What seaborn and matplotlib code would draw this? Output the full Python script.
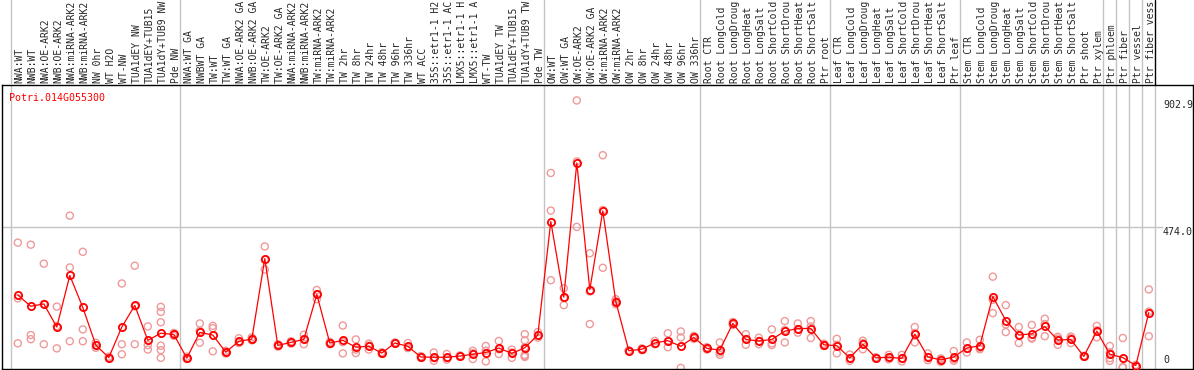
import numpy as np
import pandas as pd
import matplotlib
matplotlib.use("Agg")
import matplotlib.pyplot as plt
import seaborn as sns

# gene shown in the panel
gene = "Potri.014G055300"

# sample labels, left to right
labels = [
    "NWA:WT", "NWB:WT", "NWA:OE-ARK2", "NWB:OE-ARK2", "NWA:miRNA-ARK2",
    "NWB:miRNA-ARK2", "NW 0hr", "WT H2O", "WT-NW", "TUA1dEY NW",
    "TUA1dEY+TUB15", "TUA1dY+TUB9 NW", "Pde NW",
    "NWA:WT GA", "NWBWT GA", "TW:WT", "TW:WT GA", "NWA:OE-ARK2 GA",
    "NWB:OE-ARK2 GA", "TW:OE-ARK2", "TW:OE-ARK2 GA", "NWA:miRNA-ARK2",
    "NWB:miRNA-ARK2", "TW:miRNA-ARK2", "TW:miRNA-ARK2", "TW 2hr", "TW 8hr",
    "TW 24hr", "TW 48hr", "TW 96hr", "TW 336hr", "WT ACC", "35S::etr1-1 H2",
    "35S::etr1-1 AC", "LMX5::etr1-1 H", "LMX5::etr1-1 A", "WT-TW",
    "TUA1dEY TW", "TUA1dEY+TUB15", "TUA1dY+TUB9 TW", "Pde TW",
    "OW:WT", "OW:WT GA", "OW:OE-ARK2", "OW:OE-ARK2 GA", "OW:miRNA-ARK2",
    "OW:miRNA-ARK2", "OW 2hr", "OW 8hr", "OW 24hr", "OW 48hr", "OW 96hr",
    "OW 336hr",
    "Root CTR", "Root LongCold", "Root LongDroug", "Root LongHeat",
    "Root LongSalt", "Root ShortCold", "Root ShortDrou", "Root ShortHeat",
    "Root ShortSalt", "Ptr root",
    "Leaf CTR", "Leaf LongCold", "Leaf LongDroug", "Leaf LongHeat",
    "Leaf LongSalt", "Leaf ShortCold", "Leaf ShortDrou", "Leaf ShortHeat",
    "Leaf ShortSalt", "Ptr leaf",
    "Stem CTR", "Stem LongCold", "Stem LongDroug", "Stem LongHeat",
    "Stem LongSalt", "Stem ShortCold", "Stem ShortDrou", "Stem ShortHeat",
    "Stem ShortSalt", "Ptr shoot", "Ptr xylem",
    "Ptr phloem", "Ptr fiber", "Ptr vessel", "Ptr fiber vess",
]

# mean expression per sample
means = [
    246, 208, 216, 138, 312, 204, 77, 35, 138, 211, 93, 117, 113,
    33, 120, 111, 53, 90, 97, 369, 76, 86, 96, 248, 84, 93, 70, 73, 50, 84,
    73, 37, 36, 36, 40, 46, 52, 67, 49, 68, 111,
    494, 239, 692, 264, 530, 224, 58, 63, 84, 92, 73, 103,
    66, 60, 150, 96, 91, 96, 124, 133, 133, 78,
    75, 34, 80, 34, 36, 32, 114, 37, 27, 37,
    67, 75, 241, 160, 111, 115, 140, 94, 96, 39, 124,
    46, 35, 8, 187,
]

# replicate values per sample
reps = [
    [423, 235, 83], [416, 111, 97], [352, 216, 80], [207, 141, 66],
    [514, 339, 90], [392, 130, 90], [85, 77, 68], [38, 34, 32],
    [285, 80, 46], [345, 208, 80], [140, 77, 62],
    [206, 189, 154, 75, 60, 34], [118, 113, 108],
    [38, 31, 30], [150, 125, 85], [142, 134, 56], [58, 52, 49],
    [100, 88, 84], [103, 97, 93], [410, 365, 332], [80, 76, 72],
    [90, 86, 82], [112, 97, 80], [263, 249, 232], [88, 84, 80],
    [143, 87, 49], [96, 62, 50], [82, 75, 62], [53, 50, 47], [86, 84, 82],
    [84, 68, 67], [40, 37, 34], [52, 33, 24], [47, 33, 28], [42, 40, 38],
    [58, 50, 30], [74, 58, 22], [91, 63, 47], [62, 52, 34],
    [114, 93, 70, 44, 40, 37], [121, 110, 102],
    [658, 531, 296], [269, 236, 212], [902.9, 697, 476], [387, 258, 148],
    [718, 533, 338], [232, 225, 215], [60, 58, 56], [66, 63, 60],
    [91, 81, 80], [117, 90, 70], [123, 103, 0], [108, 103, 98],
    [70, 66, 62], [86, 52, 44], [155, 150, 145], [114, 97, 78],
    [102, 91, 80], [130, 83, 77], [158, 128, 86], [150, 131, 119],
    [158, 140, 101], [82, 78, 74],
    [98, 78, 49], [45, 33, 24], [92, 84, 63], [36, 34, 31], [44, 36, 29],
    [44, 32, 22], [138, 118, 86], [49, 37, 26], [32, 29, 20], [57, 30, 24],
    [86, 64, 52], [95, 67, 63], [308, 230, 185], [212, 147, 121],
    [138, 111, 84], [145, 99, 102], [166, 148, 107], [105, 99, 78],
    [106, 100, 84], [41, 39, 37], [142, 127, 103],
    [74, 52, 33, 24], [101, 3, 1], [10, 8, 6], [265, 190, 107],
]

# group boundaries (between samples)
group_edges = [-0.5, 12.5, 40.5, 52.5, 62.5, 72.5, 83.5, 84.5, 85.5, 86.5, 87.5]
ytick_vals = [902.9, 474.0, 0]
ytick_text = ["902.9", "474.0", "0"]

sns.set_style("white")
plt.rcParams['font.family'] = ['DejaVu Sans Mono']

W, H = 1194, 370
fig = plt.figure(figsize=(W / 100, H / 100), dpi=100)


def px_to_i(p):
    return (p - 17.8) / 13.0


x_left, x_right = px_to_i(1.5), px_to_i(1193)
ax = fig.add_axes([1.5 / W, (H - 368.5) / H, (1193 - 1.5) / W, (368.5 - 85) / H])
top = fig.add_axes([1.5 / W, (H - 85) / H, (1193 - 1.5) / W, 85 / H])

idx = np.arange(len(labels))
rep_x = np.concatenate([[i] * len(r) for i, r in enumerate(reps)])
rep_v = np.concatenate(reps)
df_rep = pd.DataFrame({"x": rep_x, "v": rep_v})
df_mean = pd.DataFrame({"x": idx, "v": means})

# separators and grid
for e in group_edges:
    ax.axvline(e, color="#c4c4c4", lw=1.0, zorder=0)
    top.axvline(e, color="black" if e == 87.5 else "#c4c4c4", lw=1.0)
ax.hlines(474.0, x_left, px_to_i(1163), color="#c4c4c4", lw=1.0, zorder=0)

sns.scatterplot(data=df_rep, x="x", y="v", ax=ax, color="none",
                edgecolor="#ef9a9a", linewidth=1.0, s=26, zorder=2, legend=False)
sns.lineplot(data=df_mean, x="x", y="v", ax=ax, color="red", lw=0.9,
             marker="o", ms=5.2, mfc="none", mec="red", mew=1.3, zorder=3)

ax.set_xlim(x_left, x_right)
ax.set_ylim(-2, 955)
ax.set_xticks([])
ax.set_yticks([])
ax.set_xlabel("")
ax.set_ylabel("")
for sp in ax.spines.values():
    sp.set_visible(True)
    sp.set_color("black")
    sp.set_linewidth(1.0)

for v, t in zip(ytick_vals, ytick_text):
    if v == 0:
        ax.text(px_to_i(1163), 9, t, va="bottom", ha="left", fontsize=7.2)
    else:
        ax.text(px_to_i(1163), v, t, va="top", ha="left", fontsize=7.2)

ax.text(px_to_i(9.3), 912, gene, color="red", va="center", ha="left", fontsize=7.2)

# rotated sample labels
top.set_xlim(x_left, x_right)
top.set_ylim(0, 1)
top.axis("off")
for i, lab in enumerate(labels):
    top.text(i + 0.15, 2 / 85, lab, rotation=90, ha="center", va="bottom",
             fontsize=7.0, transform=top.get_xaxis_transform())

fig.savefig("out.png", dpi=100)
